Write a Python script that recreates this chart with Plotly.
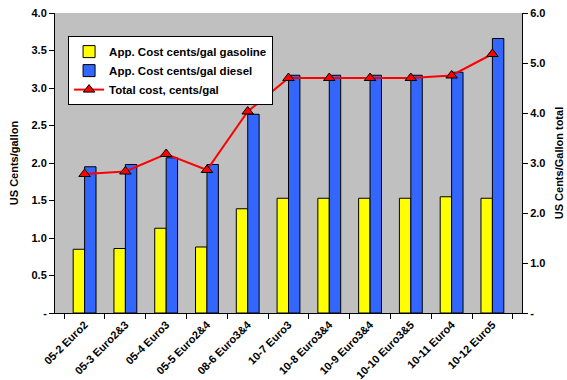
import plotly.graph_objects as go

categories = ["05-2 Euro2", "05-3 Euro2&3", "05-4 Euro3", "05-5 Euro2&4", "08-6 Euro3&4",
              "10-7 Euro3", "10-8 Euro3&4", "10-9 Euro3&4", "10-10 Euro3&5", "10-11 Euro4", "10-12 Euro5"]
gasoline = [0.85, 0.86, 1.13, 0.88, 1.39, 1.53, 1.53, 1.53, 1.53, 1.55, 1.53]
diesel = [1.95, 1.98, 2.07, 1.98, 2.65, 3.17, 3.17, 3.17, 3.17, 3.21, 3.66]
total = [2.78, 2.83, 3.18, 2.86, 4.03, 4.70, 4.70, 4.70, 4.70, 4.75, 5.18]

left_ticks = [0, 0.5, 1.0, 1.5, 2.0, 2.5, 3.0, 3.5, 4.0]
left_labels = ["-", "0.5", "1.0", "1.5", "2.0", "2.5", "3.0", "3.5", "4.0"]
right_ticks = [0, 1, 2, 3, 4, 5, 6]
right_labels = ["-", "1.0", "2.0", "3.0", "4.0", "5.0", "6.0"]

FONT = "Liberation Sans"
fig = go.Figure()
fig.add_trace(go.Bar(x=categories, y=gasoline, name="<b>App. Cost cents/gal gasoline</b>",
                     marker=dict(color="#FFFF00", line=dict(color="black", width=1))))
fig.add_trace(go.Bar(x=categories, y=diesel, name="<b>App. Cost cents/gal diesel</b>",
                     marker=dict(color="#3366FF", line=dict(color="black", width=1))))
fig.add_trace(go.Scatter(x=categories, y=total, name="<b>Total cost, cents/gal</b>", yaxis="y2",
                         mode="lines+markers", line=dict(color="#FF0000", width=2),
                         marker=dict(symbol="triangle-up", size=10, color="#FF0000",
                                     line=dict(color="black", width=1))))

fig.update_layout(
    width=567, height=380,
    margin=dict(l=55, r=45, t=13, b=67),
    paper_bgcolor="white", plot_bgcolor="#C0C0C0",
    font=dict(family=FONT, size=11, color="black"),
    barmode="group", bargap=0.44, bargroupgap=0,
    showlegend=True,
    legend=dict(x=0.028, y=0.923, xanchor="left", yanchor="top",
                bgcolor="white", bordercolor="black", borderwidth=1,
                font=dict(size=11.5, family=FONT), tracegroupgap=0,
                itemwidth=30),
    xaxis=dict(tickangle=-45, ticks="outside", tickson="boundaries", ticklen=5,
               tickcolor="black", showline=True, linecolor="black", linewidth=1,
               tickfont=dict(size=11, family=FONT), showgrid=False, automargin=False),
    yaxis=dict(range=[0, 4], tickvals=left_ticks, ticktext=["<b>%s</b>" % t for t in left_labels],
               ticks="outside", ticklen=5, tickcolor="black", showline=True, linecolor="black",
               showgrid=False, zeroline=False, automargin=False,
               title=dict(text="<b>US Cents/gallon</b>", font=dict(size=11), standoff=10)),
    yaxis2=dict(range=[0, 6], tickvals=right_ticks, ticktext=["<b>%s</b>" % t for t in right_labels],
                overlaying="y", side="right", ticks="outside", ticklen=5, tickcolor="black",
                showline=True, linecolor="black", showgrid=False, zeroline=False, automargin=False,
                title=dict(text="<b>US Cents/Gallon total</b>", font=dict(size=11), standoff=10)),
)
fig.update_xaxes(ticktext=["<b>%s</b>" % c for c in categories], tickvals=categories)
fig.write_html("out.html")
